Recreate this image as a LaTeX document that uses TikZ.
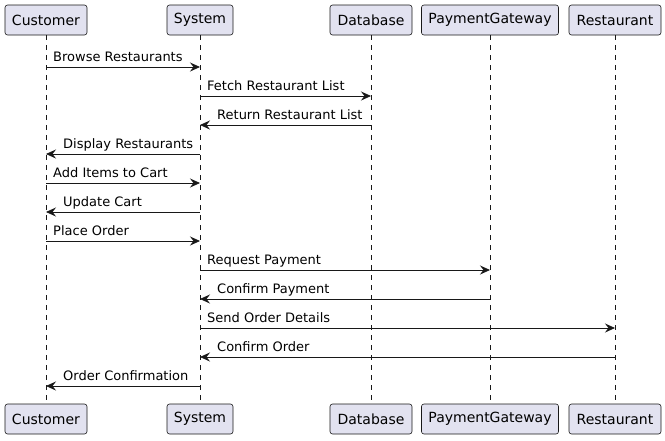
\documentclass[tikz,border=0pt]{standalone}
\usepackage{fontspec}
\setmainfont{DejaVu Sans}
\usetikzlibrary{arrows.meta}
\definecolor{pfill}{HTML}{E2E2F0}
\definecolor{pline}{HTML}{181818}
\begin{document}
\begin{tikzpicture}[x=1pt,y=-1pt,
  part/.style={draw=pline,fill=pfill,rounded corners=2.5pt,line width=0.6pt,minimum height=30pt,inner xsep=6pt,inner ysep=0pt,font=\fontsize{14}{16}\selectfont,text=black},
  life/.style={draw=pline,line width=0.5pt,dash pattern=on 5pt off 5pt},
  msg/.style={draw=pline,line width=0.8pt,-{Stealth[length=10pt,width=9pt,inset=3.5pt]}},
  lbl/.style={font=\fontsize{13}{15}\selectfont,text=black,inner sep=0pt,anchor=base west}]
\useasboundingbox (0,0) rectangle (665,440);
% top participants
\node[part,minimum width=82pt] (cT) at (46,20) {Customer};
\node[part,minimum width=66pt] (sT) at (200,20) {System};
\node[part,minimum width=82pt] (dT) at (371,20) {Database};
\node[part,minimum width=137pt] (pT) at (490,20) {PaymentGateway};
\node[part,minimum width=92pt] (rT) at (615,20) {Restaurant};
% bottom participants
\node[part,minimum width=82pt] (cB) at (46,419) {Customer};
\node[part,minimum width=66pt] (sB) at (200,419) {System};
\node[part,minimum width=82pt] (dB) at (371,419) {Database};
\node[part,minimum width=137pt] (pB) at (490,419) {PaymentGateway};
\node[part,minimum width=92pt] (rB) at (615,419) {Restaurant};
% lifelines
\foreach \n in {c,s,d,p,r} \draw[life] (\n T.south) -- (\n B.north);
% message coordinates
\foreach \n/\x in {c/46,s/200,d/371,p/490,r/615}{
  \foreach \i/\y in {1/67,2/96,3/125,4/154,5/183,6/212,7/241,8/270,9/299,10/328,11/357,12/386}{
    \coordinate (\n\i) at (\x,\y);
  }
}
\newcommand{\rmsg}[3]{\draw[msg] (#1) -- (#2); \node[lbl] at ([xshift=7pt,yshift=6pt]#1) {#3};}
\newcommand{\lmsg}[3]{\draw[msg] (#1) -- (#2); \node[lbl] at ([xshift=17pt,yshift=6pt]#2) {#3};}
\rmsg{c1}{s1}{Browse Restaurants}
\rmsg{s2}{d2}{Fetch Restaurant List}
\lmsg{d3}{s3}{Return Restaurant List}
\lmsg{s4}{c4}{Display Restaurants}
\rmsg{c5}{s5}{Add Items to Cart}
\lmsg{s6}{c6}{Update Cart}
\rmsg{c7}{s7}{Place Order}
\rmsg{s8}{p8}{Request Payment}
\lmsg{p9}{s9}{Confirm Payment}
\rmsg{s10}{r10}{Send Order Details}
\lmsg{r11}{s11}{Confirm Order}
\lmsg{s12}{c12}{Order Confirmation}
\end{tikzpicture}
\end{document}
